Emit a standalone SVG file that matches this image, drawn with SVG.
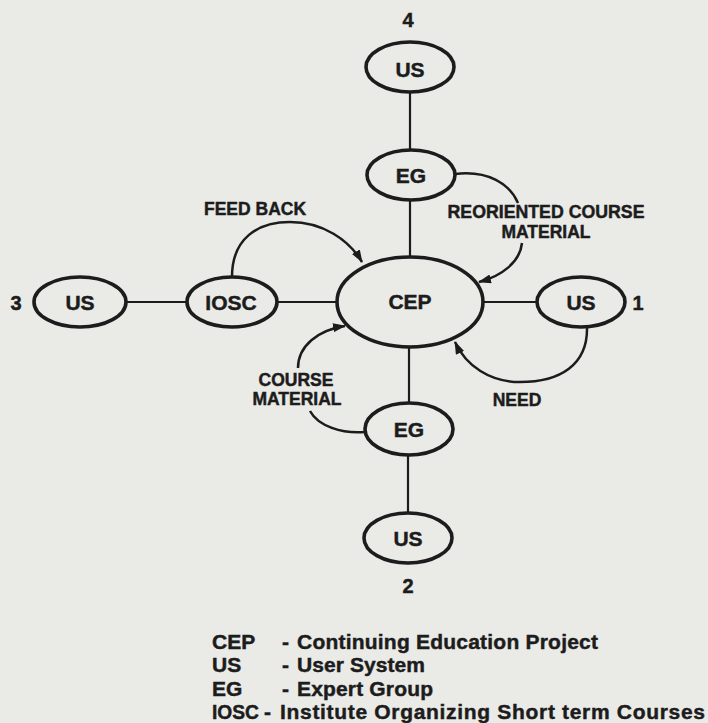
<svg xmlns="http://www.w3.org/2000/svg" width="708" height="723" viewBox="0 0 708 723">
<style>
  .bg { fill: #eaeae7; }
  .node { fill: none; stroke: #1c1c1c; stroke-width: 3.6; }
  .lbl { font-family: "Liberation Sans", Arial, Helvetica, sans-serif; font-weight: bold; fill: #1c1c1c; stroke: #1c1c1c; stroke-width: 0.45; }
  .nl { font-size: 21px; text-anchor: middle; }
  .num { font-size: 20px; text-anchor: middle; }
  .cl { font-size: 17.5px; text-anchor: middle; }
  .leg { font-size: 21px; }
  .link { fill: none; stroke: #1c1c1c; stroke-width: 2.2; }
  .arc { fill: none; stroke: #1c1c1c; stroke-width: 2.5; }
</style>
<defs>
  <marker id="ah" markerUnits="userSpaceOnUse" markerWidth="14" markerHeight="10" refX="12" refY="4.5" orient="auto">
    <path d="M0,0 L13,4.5 L0,9 z" fill="#1c1c1c"/>
  </marker>
</defs>
<rect class="bg" x="0" y="0" width="708" height="723"/>

<g id="connectors">
  <line class="link" x1="410" y1="92" x2="410" y2="150"/>
  <line class="link" x1="410" y1="200" x2="410" y2="257"/>
  <line class="link" x1="409" y1="347" x2="409" y2="403"/>
  <line class="link" x1="408" y1="455" x2="408" y2="513"/>
  <line class="link" x1="126" y1="302" x2="187" y2="302"/>
  <line class="link" x1="277" y1="302" x2="337" y2="302"/>
  <line class="link" x1="483" y1="302" x2="537" y2="302"/>
  <path class="arc" d="M232,277 C232,238 258,222 290,222 C323,222 349,240 362,262" marker-end="url(#ah)"/>
  <path class="arc" d="M455,174 C488,170 510,184 518,203"/>
  <path class="arc" d="M522,243 C520,262 502,276 479,282" marker-end="url(#ah)"/>
  <path class="arc" d="M587,327 C588,365 560,382 520,382 C490,382 466,366 455,342" marker-end="url(#ah)"/>
  <path class="arc" d="M365,432 C342,434 318,426 310,411"/>
  <path class="arc" d="M298,368 C298,346 318,330 345,326" marker-end="url(#ah)"/>
  <text class="lbl cl" x="255" y="215">FEED BACK</text>
  <text class="lbl cl" x="546" y="218" textLength="197" lengthAdjust="spacingAndGlyphs">REORIENTED COURSE</text>
  <text class="lbl cl" x="546" y="238">MATERIAL</text>
  <text class="lbl cl" x="517" y="406">NEED</text>
  <text class="lbl cl" x="296" y="386">COURSE</text>
  <text class="lbl cl" x="297" y="405">MATERIAL</text>
</g>

<g id="node-cep">
  <ellipse class="node" cx="410" cy="302" rx="73" ry="45"/>
  <text class="lbl nl" x="410" y="309">CEP</text>
</g>
<g id="node-us4">
  <ellipse class="node" cx="410" cy="67" rx="44" ry="25"/>
  <text class="lbl nl" x="410" y="77">US</text>
  <text class="lbl num" x="408" y="27">4</text>
</g>
<g id="node-eg-top">
  <ellipse class="node" cx="411" cy="175" rx="44" ry="25"/>
  <text class="lbl nl" x="411" y="183">EG</text>
</g>
<g id="node-us1">
  <ellipse class="node" cx="581" cy="302" rx="44" ry="25"/>
  <text class="lbl nl" x="581" y="310">US</text>
  <text class="lbl num" x="638" y="310">1</text>
</g>
<g id="node-iosc">
  <ellipse class="node" cx="232" cy="302" rx="45" ry="25"/>
  <text class="lbl nl" x="231" y="310">IOSC</text>
</g>
<g id="node-us3">
  <ellipse class="node" cx="80" cy="302" rx="46" ry="25"/>
  <text class="lbl nl" x="80" y="310">US</text>
  <text class="lbl num" x="16" y="310">3</text>
</g>
<g id="node-eg-bottom">
  <ellipse class="node" cx="409" cy="429" rx="44" ry="26"/>
  <text class="lbl nl" x="409" y="437">EG</text>
</g>
<g id="node-us2">
  <ellipse class="node" cx="408" cy="538" rx="44" ry="25"/>
  <text class="lbl nl" x="408" y="546">US</text>
  <text class="lbl num" x="408" y="593">2</text>
</g>

<g id="legend">
  <text class="lbl leg" x="212" y="649">CEP</text>
  <text class="lbl leg" x="282" y="649">-</text>
  <text class="lbl leg" x="297" y="649" textLength="301">Continuing Education Project</text>
  <text class="lbl leg" x="212" y="672">US</text>
  <text class="lbl leg" x="282" y="672">-</text>
  <text class="lbl leg" x="297" y="672" textLength="128">User System</text>
  <text class="lbl leg" x="212" y="696">EG</text>
  <text class="lbl leg" x="282" y="696">-</text>
  <text class="lbl leg" x="297" y="696" textLength="136">Expert Group</text>
  <text class="lbl leg" x="212" y="719" textLength="47" lengthAdjust="spacingAndGlyphs">IOSC</text>
  <text class="lbl leg" x="264" y="719">-</text>
  <text class="lbl leg" x="280" y="719" textLength="425">Institute Organizing Short term Courses</text>
</g>
</svg>
